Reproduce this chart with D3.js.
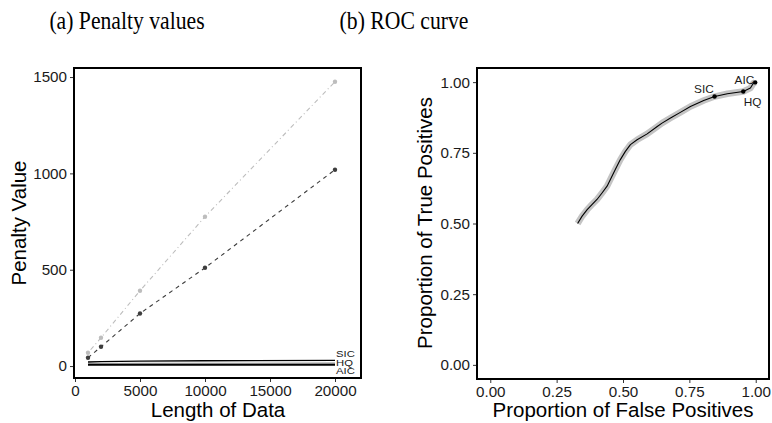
<!DOCTYPE html>
<html>
<head>
<meta charset="utf-8">
<script src="https://cdn.jsdelivr.net/npm/d3@7"></script>
<style>
  html, body { margin: 0; padding: 0; background: #fff; }
  svg { display: block; }
  .sans { font-family: "Liberation Sans", Arial, Helvetica, sans-serif; }
</style>
</head>
<body>
<svg id="fig" width="772" height="423"></svg>
<script>
// ---- Panel (a): penalty values by length of data ----
const lengths = [1000, 2000, 5000, 10000, 20000];
const penaltyLight = [69, 147, 391, 775, 1476];   // dot-dash light grey series
const penaltyDark  = [43, 100, 273, 510, 1019];   // dashed dark grey series
const penaltySIC   = [20.7, 22.8, 25.6, 27.6, 29.7];
const penaltyHQ    = [11.6, 12.3, 12.9, 13.3, 13.8];
const penaltyAIC   = [6, 6, 6, 6, 6];
const xTicksA = [0, 5000, 10000, 15000, 20000];
const yTicksA = [0, 500, 1000, 1500];

// ---- Panel (b): ROC curve ----
const rocFPR = [0.329, 0.346, 0.365, 0.383, 0.402, 0.421, 0.440, 0.452, 0.471, 0.490,
                0.509, 0.528, 0.553, 0.591, 0.629, 0.647, 0.679, 0.716, 0.754, 0.804,
                0.845, 0.893, 0.953, 0.980, 0.991, 0.998];
const rocTPR = [0.500, 0.526, 0.549, 0.567, 0.585, 0.608, 0.632, 0.655, 0.691, 0.726,
                0.755, 0.779, 0.796, 0.817, 0.843, 0.855, 0.873, 0.893, 0.914, 0.935,
                0.949, 0.959, 0.967, 0.979, 0.996, 0.999];
const rocCriteria = ["SIC", "HQ", "AIC"];
const rocCritFPR  = [0.845, 0.953, 0.998];
const rocCritTPR  = [0.949, 0.967, 0.999];
const ticksB = [0, 0.25, 0.5, 0.75, 1];

const svg = d3.select("#fig");

// Panel titles (serif, slightly condensed)
function panelTitle(cx, label) {
  svg.append("text").attr("transform", `translate(${cx},29) scale(0.85,1)`)
    .attr("text-anchor", "middle")
    .style("font-family", "'Liberation Serif', 'DejaVu Serif', serif").style("font-size", "25.5px")
    .attr("fill", "#000").text(label);
}
panelTitle(127, "(a) Penalty values");
panelTitle(404, "(b) ROC curve");

function styleAxis(g) {
  g.select(".domain").remove();
  g.selectAll(".tick line").attr("stroke", "#333").attr("stroke-width", 1);
  g.selectAll(".tick text").attr("class", "sans").style("font-size", "15.2px").attr("fill", "#1a1a1a");
}

// ================= Panel (a) =================
const xA = d3.scaleLinear().domain([-77, 22000]).range([74, 361]);
const yA = d3.scaleLinear().domain([-62, 1547]).range([378, 68]);
const gA = svg.append("g");

gA.append("g").attr("transform", "translate(0,378)")
  .call(d3.axisBottom(xA).tickValues(xTicksA).tickFormat(d3.format("d")).tickSize(4).tickPadding(3))
  .call(styleAxis);
gA.append("g").attr("transform", "translate(74,0)")
  .call(d3.axisLeft(yA).tickValues(yTicksA).tickFormat(d3.format("d")).tickSize(4).tickPadding(3))
  .call(styleAxis);

const lineA = vals => d3.line().x((d, i) => xA(lengths[i])).y(d => yA(d))(vals);

gA.append("path").attr("d", lineA(penaltyLight)).attr("fill", "none")
  .attr("stroke", "#bdbdbd").attr("stroke-width", 1.1).attr("stroke-dasharray", "1,3,4.5,3");
gA.append("path").attr("d", lineA(penaltyDark)).attr("fill", "none")
  .attr("stroke", "#3d3d3d").attr("stroke-width", 1.1).attr("stroke-dasharray", "4,4");
gA.selectAll("circle.light").data(penaltyLight).join("circle").attr("class", "light")
  .attr("cx", (d, i) => xA(lengths[i])).attr("cy", d => yA(d)).attr("r", 2.2).attr("fill", "#bdbdbd");
gA.selectAll("circle.dark").data(penaltyDark).join("circle").attr("class", "dark")
  .attr("cx", (d, i) => xA(lengths[i])).attr("cy", d => yA(d)).attr("r", 2.2).attr("fill", "#3d3d3d");

// information criteria penalties (near zero)
gA.append("path").attr("d", lineA(penaltySIC)).attr("fill", "none").attr("stroke", "#000").attr("stroke-width", 1.4);
gA.append("path").attr("d", lineA(penaltyHQ)).attr("fill", "none").attr("stroke", "#8c8c8c").attr("stroke-width", 1.6);
gA.append("path").attr("d", lineA(penaltyAIC)).attr("fill", "none").attr("stroke", "#000").attr("stroke-width", 1.6);

// stacked end labels (compact, slightly widened)
const endX = xA(lengths[lengths.length - 1]) + 1;
const baseAIC = yA(penaltyAIC[penaltyAIC.length - 1]) + 9.2;
["AIC", "HQ", "SIC"].forEach((lab, k) => {
  gA.append("text").attr("class", "sans")
    .attr("transform", `translate(${endX},${baseAIC - 8.3 * k}) scale(1.15,1)`)
    .style("font-size", "9.8px").attr("fill", "#1a1a1a").text(lab);
});

gA.append("rect").attr("x", xA.range()[0]).attr("y", yA.range()[1])
  .attr("width", xA.range()[1] - xA.range()[0]).attr("height", yA.range()[0] - yA.range()[1])
  .attr("fill", "none").attr("stroke", "#000").attr("stroke-width", 2);

gA.append("text").attr("class", "sans").attr("x", 218).attr("y", 416.5).attr("text-anchor", "middle")
  .style("font-size", "20.5px").attr("fill", "#000").text("Length of Data");
gA.append("text").attr("class", "sans").attr("transform", "translate(26,223) rotate(-90)")
  .attr("text-anchor", "middle").style("font-size", "20.5px").attr("fill", "#000").text("Penalty Value");

// ================= Panel (b) =================
const xB = d3.scaleLinear().domain([-0.05, 1.05]).range([477, 769]);
const yB = d3.scaleLinear().domain([-0.05, 1.05]).range([379, 68]);
const gB = svg.append("g");

gB.append("g").attr("transform", "translate(0,379)")
  .call(d3.axisBottom(xB).tickValues(ticksB).tickFormat(d3.format(".2f")).tickSize(4).tickPadding(3))
  .call(styleAxis);
gB.append("g").attr("transform", "translate(477,0)")
  .call(d3.axisLeft(yB).tickValues(ticksB).tickFormat(d3.format(".2f")).tickSize(4).tickPadding(3))
  .call(styleAxis);

const rocLine = d3.line().x((d, i) => xB(rocFPR[i])).y(d => yB(d)).curve(d3.curveLinear);
gB.append("path").attr("d", rocLine(rocTPR)).attr("fill", "none")
  .attr("stroke", "#c4c4c4").attr("stroke-width", 6.5).attr("stroke-linejoin", "round");
gB.append("path").attr("d", rocLine(rocTPR)).attr("fill", "none")
  .attr("stroke", "#000").attr("stroke-width", 1.1).attr("stroke-linejoin", "round");
gB.selectAll("circle.crit").data(rocCriteria).join("circle").attr("class", "crit")
  .attr("cx", (d, i) => xB(rocCritFPR[i])).attr("cy", (d, i) => yB(rocCritTPR[i]))
  .attr("r", 2.2).attr("fill", "#000");

// criterion labels, offset from their points
const labelOffset = { SIC: [-10.7, -4], HQ: [9.3, 14.3], AIC: [-10.8, 1.3] };
gB.selectAll("text.crit").data(rocCriteria).join("text").attr("class", "crit sans")
  .attr("x", (d, i) => xB(rocCritFPR[i]) + labelOffset[d][0])
  .attr("y", (d, i) => yB(rocCritTPR[i]) + labelOffset[d][1])
  .attr("text-anchor", "middle").style("font-size", "11.8px").attr("fill", "#1a1a1a").text(d => d);

gB.append("rect").attr("x", xB.range()[0]).attr("y", yB.range()[1])
  .attr("width", xB.range()[1] - xB.range()[0]).attr("height", yB.range()[0] - yB.range()[1])
  .attr("fill", "none").attr("stroke", "#000").attr("stroke-width", 2);

gB.append("text").attr("class", "sans").attr("x", 623).attr("y", 416.5).attr("text-anchor", "middle")
  .style("font-size", "20.5px").attr("fill", "#000").text("Proportion of False Positives");
gB.append("text").attr("class", "sans").attr("transform", "translate(432,223) rotate(-90)")
  .attr("text-anchor", "middle").style("font-size", "20.5px").attr("fill", "#000").text("Proportion of True Positives");
</script>
</body>
</html>
